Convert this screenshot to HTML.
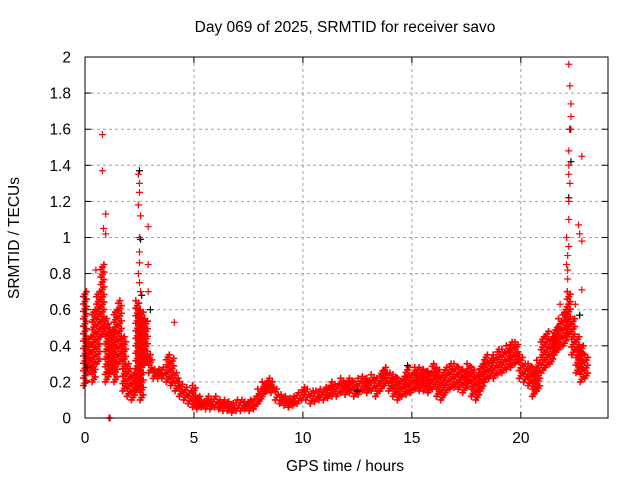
<!DOCTYPE html>
<html><head><meta charset="utf-8"><style>
body{margin:0;background:#fff}
svg{display:block;font-family:"Liberation Sans",sans-serif;font-size:15.5px}
</style></head><body>
<svg id="c" width="640" height="480" xmlns="http://www.w3.org/2000/svg">
<rect width="640" height="480" fill="#fff"/>
<text x="345" y="32" text-anchor="middle">Day 069 of 2025, SRMTID for receiver savo</text>
<text x="345" y="471" text-anchor="middle">GPS time / hours</text>
<text transform="translate(19,238) rotate(-90)" text-anchor="middle">SRMTID / TECUs</text>
<g id="grid"></g>
<g id="ticks"></g>
<g id="marks"></g>
<rect x="85" y="57" width="523" height="361" fill="none" stroke="#000" stroke-width="1"/>
</svg>
<script>
const xTicks=[0,5,10,15,20];
const yTicks=[0,0.2,0.4,0.6,0.8,1,1.2,1.4,1.6,1.8,2];
const yTickLabels=["0","0.2","0.4","0.6","0.8","1","1.2","1.4","1.6","1.8","2"];
const stepHours=0.2;
const lowVals=[.18,.25,.2,.3,.45, .2,.25,.2,.3,.15, .12,.1,.15,.1,.3, .25,.22,.22,.22,.2, .18,.15,.12,.1,.08,
 .06,.05,.06,.05,.05, .06,.05,.04,.04,.03, .04,.04,.05,.04,.05, .08,.12,.15,.14,.1, .08,.07,.06,.07,.08,
 .1,.1,.08,.09,.1, .1,.11,.12,.12,.14, .13,.14,.12,.13,.15, .14,.15,.12,.15,.18, .15,.12,.1,.12,.13,
 .14,.16,.15,.15,.14, .16,.12,.1,.14,.16, .17,.16,.14,.18,.12, .1,.15,.2,.22,.22, .24,.25,.27,.28,.3,
 .22,.2,.18,.12,.15, .25,.28,.3,.35,.38, .4,.45,.35,.25,.2, .22];
const highVals=[.7,.45,.6,.7,.85, .55,.5,.6,.65,.45, .3,.25,.65,.6,.55, .35,.27,.27,.28,.35, .33,.25,.2,.17,.15,
 .18,.12,.1,.12,.1, .12,.1,.1,.09,.08, .1,.1,.09,.1,.12, .16,.2,.22,.2,.16, .13,.12,.11,.12,.14,
 .17,.16,.15,.15,.16, .17,.18,.2,.19,.22, .2,.22,.2,.22,.23, .22,.24,.22,.26,.28, .25,.24,.22,.23,.28,
 .25,.28,.28,.27,.26, .3,.28,.25,.28,.3, .3,.28,.27,.3,.28, .25,.3,.35,.33,.35, .38,.38,.4,.42,.42,
 .35,.3,.3,.28,.32, .45,.48,.45,.5,.55, .6,.7,.55,.45,.4, .35];
const spikeT=[0.8,0.8,0.95,0.85,0.95,1.1,1.15,2.45,2.5,2.5,2.45,2.55,2.5,2.9,2.9,2.5,2.9,4.1,0.5,2.45,2.5,2.55,2.5,
 22.2,22.25,22.3,22.3,22.3,22.2,22.2,22.2,22.25,22.2,22.2,22.1,22.15,22.15,22.8,22.65,22.7,22.8,22.8,21.8,22.0,22.5,22.15,22.2,22.1];
const spikeV=[1.57,1.37,1.13,1.05,1.02,0,0,1.35,1.3,1.25,1.18,1.12,1.0,1.06,.85,.86,.7,.53,.82,.8,.75,.7,.92,
 1.96,1.84,1.74,1.67,1.6,1.48,1.4,1.35,1.3,1.2,1.1,1.0,.9,.82,1.45,1.07,1.02,.98,.71,.63,.58,.63,.77,.95,.85];
const blackT=[2.5,2.55,22.25,22.3,22.7,2.6,14.8,12.5,0.1,22.2,3.0];
const blackV=[1.37,0.99,1.6,1.42,0.57,0.68,0.29,0.15,0.28,1.22,0.6];

const NS="http://www.w3.org/2000/svg";
const X=t=>85+t*(523/24);
const Y=v=>418-v*180.5;
const grid=document.getElementById('grid'),ticks=document.getElementById('ticks'),marks=document.getElementById('marks');
function mk(tag,attrs,parent){const e=document.createElementNS(NS,tag);for(const k in attrs)e.setAttribute(k,attrs[k]);parent.appendChild(e);return e;}
xTicks.forEach(t=>{
  const x=X(t);
  if(t>0){const g=mk('line',{x1:x,x2:x,y1:57,y2:418,stroke:'#a0a0a0','stroke-dasharray':'3,3'},grid);
  
  }
  const a=mk('line',{x1:x,x2:x,y1:418,y2:412,stroke:'#000'},ticks);
  
  
  mk('line',{x1:x,x2:x,y1:57,y2:63,stroke:'#000'},ticks);
  const l=mk('text',{x:x,y:443,'text-anchor':'middle'},ticks);l.textContent=String(t);
  
  
});
yTicks.forEach((v,i)=>{
  const y=Y(v);
  if(v>0&&v<2){const g=mk('line',{x1:85,x2:608,y1:y,y2:y,stroke:'#a0a0a0','stroke-dasharray':'3,3'},grid);
  
  }
  const a=mk('line',{x1:85,x2:91,y1:y,y2:y,stroke:'#000'},ticks);
  
  
  mk('line',{x1:602,x2:608,y1:y,y2:y,stroke:'#000'},ticks);
  const l=mk('text',{x:71,y:y+5.5,'text-anchor':'end'},ticks);l.textContent=yTickLabels[i];
  
  
});
function cross(x,y,col,w){
  const p=mk('path',{d:`M${x-3.5},${y}h7M${x},${y-3.5}v7`,stroke:col,'stroke-width':w,fill:'none'},marks);
  
  
}
lowVals.forEach((lo,i)=>{
  const hi=highVals[i];const x=X(i*stepHours);
  const y0=Y(lo),y1=Y(hi);
  const n=Math.max(1,Math.round((y0-y1)/2.5));
  for(let k=0;k<=n;k++){const y=y0+(y1-y0)*k/n;cross(x+((k%3)-1)*1.5,y,'#f00',1.6);}
});
blackT.forEach((t,i)=>cross(X(t),Y(blackV[i]),'#000',1.2));
spikeT.forEach((t,i)=>cross(X(t),Y(spikeV[i]),'#f00',1.2));
</script>
</body></html>
